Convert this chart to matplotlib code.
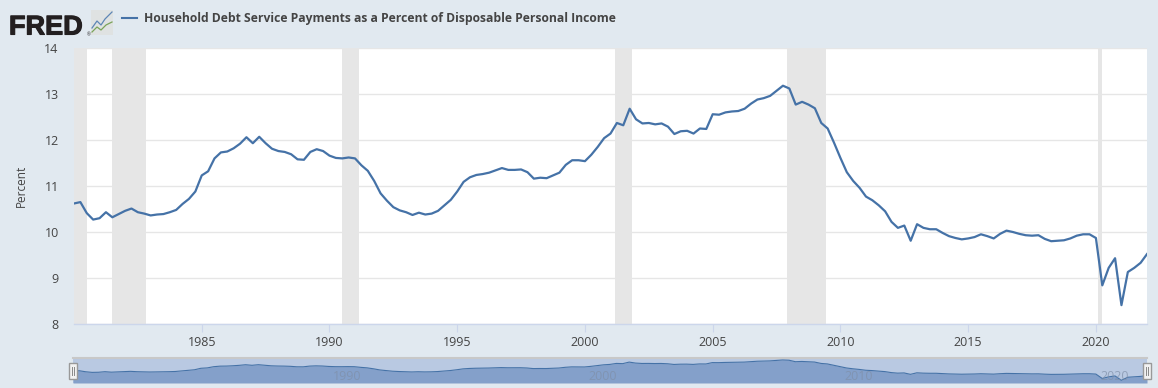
import numpy as np
import matplotlib
matplotlib.use("Agg")
import matplotlib.pyplot as plt
import matplotlib.patheffects as pe
from matplotlib.patches import Rectangle

WIDTH, HEIGHT = 1158, 388

# quarterly values, 1980 Q1 to 2022 Q1
debt_service = [
    10.62, 10.65, 10.41, 10.27, 10.30, 10.43, 10.32, 10.39, 10.46, 10.51,
    10.43, 10.40, 10.36, 10.38, 10.39, 10.43, 10.48, 10.61, 10.72, 10.88,
    11.23, 11.32, 11.60, 11.73, 11.75, 11.82, 11.92, 12.06, 11.93, 12.07,
    11.93, 11.81, 11.76, 11.74, 11.69, 11.58, 11.57, 11.74, 11.80, 11.76,
    11.66, 11.61, 11.60, 11.62, 11.60, 11.45, 11.33, 11.11, 10.84, 10.68,
    10.54, 10.47, 10.43, 10.37, 10.42, 10.38, 10.40, 10.46, 10.58, 10.70,
    10.88, 11.09, 11.19, 11.24, 11.26, 11.29, 11.34, 11.39, 11.35, 11.35,
    11.36, 11.30, 11.16, 11.18, 11.17, 11.23, 11.29, 11.46, 11.56, 11.56,
    11.54, 11.68, 11.85, 12.04, 12.14, 12.37, 12.32, 12.68, 12.45, 12.36,
    12.37, 12.34, 12.36, 12.29, 12.13, 12.19, 12.20, 12.14, 12.25, 12.24,
    12.56, 12.55, 12.60, 12.62, 12.63, 12.68, 12.79, 12.88, 12.91, 12.96,
    13.07, 13.18, 13.12, 12.77, 12.83, 12.77, 12.69, 12.37, 12.25, 11.94,
    11.61, 11.30, 11.11, 10.96, 10.77, 10.69, 10.58, 10.45, 10.22, 10.09,
    10.14, 9.81, 10.17, 10.09, 10.06, 10.06, 9.98, 9.91, 9.87, 9.84,
    9.86, 9.89, 9.95, 9.91, 9.86, 9.96, 10.03, 10.00, 9.96, 9.93,
    9.92, 9.93, 9.85, 9.80, 9.81, 9.82, 9.86, 9.92, 9.95, 9.95,
    9.87, 8.84, 9.22, 9.43, 8.41, 9.13, 9.22, 9.33, 9.52,
]
recession_start = [1980.0, 1981.5, 1990.5, 2001.17, 2007.92, 2020.08]
recession_end = [1980.5, 1982.83, 1991.17, 2001.83, 2009.42, 2020.25]
year_ticks = [1985, 1990, 1995, 2000, 2005, 2010, 2015, 2020]
percent_ticks = [8, 9, 10, 11, 12, 13, 14]
navigator_ticks = [1990, 2000, 2010, 2020]

title = "Household Debt Service Payments as a Percent of Disposable Personal Income"

BG = "#e1e9f0"
LINE = "#4572a7"
TEXT = "#444444"
AXIS = "#ccd6eb"
GREY = "#e6e6e6"

plt.rcParams["font.family"] = ["Open Sans", "DejaVu Sans"]

years = 1980 + np.arange(len(debt_service)) / 4


def px_axes(left, top, right, bottom):
    # add an axes from pixel edges measured from the top left
    return fig.add_axes([
        left / WIDTH,
        1 - bottom / HEIGHT,
        (right - left) / WIDTH,
        (bottom - top) / HEIGHT,
    ])


fig = plt.figure(figsize=(WIDTH / 100, HEIGHT / 100), dpi=100, facecolor=BG)

# main chart
ax = px_axes(74, 48, 1147, 324)
ax.set_xlim(1980, 2022)
ax.set_ylim(8, 14)
ax.set_facecolor("white")
ax.grid(axis="y", color=GREY, linewidth=1, zorder=0)
for start, end in zip(recession_start, recession_end):
    ax.axvspan(start, end, color=GREY, linewidth=0, zorder=1)
ax.plot(years, debt_service, color=LINE, linewidth=1.6, zorder=3)

ax.set_xticks(year_ticks)
ax.set_yticks(percent_ticks)
ax.tick_params(axis="x", length=6, width=0.8, color=AXIS, labelcolor=TEXT, labelsize=9, pad=3)
ax.tick_params(axis="y", length=0, labelcolor=TEXT, labelsize=9, pad=11)
for side in ["top", "left", "right"]:
    ax.spines[side].set_visible(False)
ax.spines["bottom"].set_color(AXIS)
ax.spines["bottom"].set_linewidth(1)
ax.set_ylabel("Percent", color=TEXT, fontsize=8.5)
ax.yaxis.set_label_coords(-46 / 1073, 0.5)

# navigator strip under the chart
nav = px_axes(73, 358, 1147, 383)
nav.set_xlim(1980, 2022)
nav.set_ylim(7.78, 13.64)
nav.set_facecolor("#b9c9e2")
nav.fill_between(years, debt_service, 7.78, color="#84a0ca", linewidth=0)
nav.plot(years, debt_service, color=LINE, linewidth=0.8)
nav.set_xticks([])
nav.set_yticks([])
for side in ["left", "right", "bottom"]:
    nav.spines[side].set_visible(False)
nav.spines["top"].set_color("#c8c8c8")
nav.spines["top"].set_linewidth(1.5)
for tick in navigator_ticks:
    nav.annotate(
        str(tick), (tick, 0), xycoords=("data", "axes fraction"),
        xytext=(3, 2.5), textcoords="offset points",
        color="#7f8fa8", alpha=0.7, fontsize=9,
    )

# overlay in pixels for the logo, legend and navigator handles
top = fig.add_axes([0, 0, 1, 1], facecolor="none")
top.set_xlim(0, WIDTH)
top.set_ylim(HEIGHT, 0)
top.axis("off")

for handle_x in [69, 1143]:
    top.add_patch(Rectangle((handle_x, 363), 8, 16, facecolor="#f2f2f2", edgecolor="#999999", linewidth=1))
    top.plot([handle_x + 3, handle_x + 3], [367, 375], color="#888888", linewidth=0.7)
    top.plot([handle_x + 5, handle_x + 5], [367, 375], color="#888888", linewidth=0.7)

top.text(
    9, 34.5, "FRED", family="Liberation Sans", weight="bold", fontsize=19.5,
    color="#231f20", va="baseline", ha="left",
    path_effects=[pe.withStroke(linewidth=0.8, foreground="#231f20")],
)
top.text(86.5, 36, "®", family="Liberation Sans", fontsize=3.5, color="#231f20", va="baseline")

# small logo chart
top.add_patch(Rectangle((91, 10), 22, 25, facecolor="#dfe2e2", edgecolor="none"))
top.plot([92, 97, 101, 105, 112], [28, 21, 25, 19, 12], color="#5d86b5", linewidth=0.9)
top.plot([92, 97, 101, 106, 112], [32, 27, 30, 25, 22], color="#7aa35a", linewidth=0.9)

# legend
top.plot([122, 137], [18, 18], color=LINE, linewidth=1.5)
top.text(143.5, 18.5, title, color=TEXT, fontsize=8.7, weight="bold", va="center", ha="left")

fig.savefig("out.png", dpi=100, facecolor=BG)
